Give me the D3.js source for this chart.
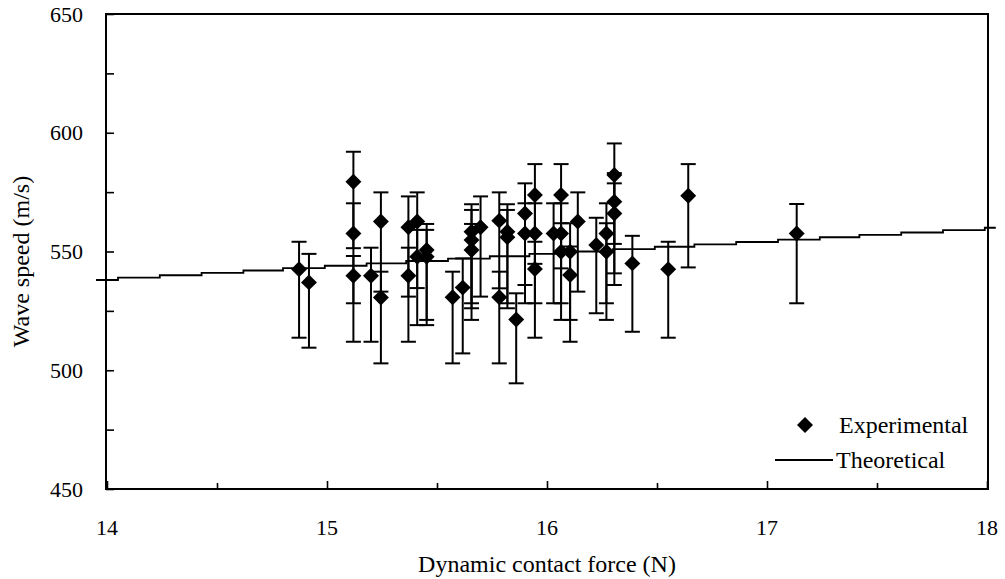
<!DOCTYPE html>
<html>
<head>
<meta charset="utf-8">
<script src="https://cdn.jsdelivr.net/npm/d3@7"></script>
<style>
  html, body { margin: 0; padding: 0; background: #fff; }
  svg { display: block; }
</style>
</head>
<body>
<svg id="chart" width="1005" height="579"></svg>
<script>
// Measured wave speed against dynamic contact force, with asymmetric error bars
const expForce = [14.873, 14.918, 15.12, 15.12, 15.12, 15.2, 15.245, 15.245, 15.37, 15.37,
  15.41, 15.41, 15.453, 15.453, 15.571, 15.617, 15.657, 15.657, 15.657, 15.698,
  15.783, 15.783, 15.82, 15.82, 15.86, 15.9, 15.9, 15.945, 15.945, 15.945,
  16.03, 16.064, 16.064, 16.064, 16.105, 16.105, 16.14, 16.224, 16.27, 16.27,
  16.306, 16.306, 16.306, 16.388, 16.551, 16.642, 17.135];
const expSpeed = [542.5, 537.0, 579.4, 557.6, 539.8, 539.8, 562.6, 530.6, 560.2, 539.8,
  562.6, 547.8, 550.6, 547.8, 530.7, 534.8, 558.3, 554.8, 550.6, 560.2,
  563.0, 530.7, 558.3, 556.0, 521.4, 566.0, 557.6, 573.8, 557.6, 542.6,
  557.6, 573.8, 557.6, 549.9, 549.9, 540.1, 562.6, 552.7, 557.6, 549.9,
  582.2, 571.0, 566.0, 545.0, 542.5, 573.5, 557.6];
const errPlus = [11.6, 12.0, 12.6, 12.7, 8.3, 11.8, 12.3, 10.9, 13.0, 11.8,
  12.3, 11.3, 11.0, 11.3, 10.8, 12.3, 11.6, 12.7, 11.0, 13.0,
  11.9, 10.8, 11.6, 11.5, 11.0, 12.7, 12.7, 13.0, 12.7, 11.5,
  12.7, 13.0, 12.7, 12.0, 12.0, 12.0, 12.3, 11.5, 12.7, 12.0,
  13.3, 12.0, 12.7, 11.6, 11.6, 13.3, 12.4];
const errMinus = [28.8, 27.5, 28.0, 29.4, 27.8, 27.8, 29.5, 27.7, 29.2, 27.8,
  28.0, 28.8, 29.4, 28.8, 27.8, 27.7, 30.1, 28.7, 29.4, 29.2,
  28.5, 27.8, 30.1, 29.9, 26.9, 30.1, 29.4, 29.0, 29.4, 28.9,
  29.4, 30.9, 29.4, 28.7, 28.7, 28.1, 29.5, 28.7, 29.4, 28.7,
  29.0, 30.2, 30.1, 28.8, 28.8, 30.2, 29.4];

// Theoretical prediction (values listed at each step of the rounded curve)
const thForce = [13.95, 14.05, 14.24, 14.43, 14.62, 14.80, 14.99, 15.18, 15.36, 15.55,
  15.74, 15.92, 16.11, 16.30, 16.49, 16.67, 16.86, 17.05, 17.24, 17.42,
  17.61, 17.80, 17.99, 18.04];
const thSpeed = [538, 539, 540, 541, 542, 543, 544, 545, 546, 547,
  548, 549, 550, 551, 552, 553, 554, 555, 556, 557,
  558, 559, 560, 560];

const xTicks = [14, 15, 16, 17, 18];
const yTicks = [450, 500, 550, 600, 650];
const xLabel = "Dynamic contact force (N)";
const yLabel = "Wave speed (m/s)";
const legendLabels = ["Experimental", "Theoretical"];

const FONT = "'Liberation Serif', Tinos, 'Times New Roman', Times, 'DejaVu Serif', serif";

const svg = d3.select("#chart");
const plot = { left: 106, top: 14, right: 988, bottom: 489 };

const x = d3.scaleLinear().domain([14, 18]).range([plot.left + 1, plot.right - 1]);
const y = d3.scaleLinear().domain([450, 650]).range([plot.bottom, plot.top]);

// Minor ticks (inside the plot)
const xMinor = d3.range(14.5, 18, 1);
const yMinor = d3.range(475, 650, 50);

const ax = svg.append("g");
const styleTicks = g => {
  g.select(".domain").remove();
  g.selectAll("line").attr("stroke", "#000").attr("stroke-width", 1.6);
};

// X axis: ticks point upward into the plot
ax.append("g").attr("transform", `translate(0,${plot.bottom})`)
  .call(d3.axisTop(x).tickValues(xTicks).tickSize(8).tickFormat(""))
  .call(styleTicks);
ax.append("g").attr("transform", `translate(0,${plot.bottom})`)
  .call(d3.axisTop(x).tickValues(xMinor).tickSize(6).tickFormat(""))
  .call(styleTicks);

// Y axis: ticks point right into the plot
ax.append("g").attr("transform", `translate(${plot.left},0)`)
  .call(d3.axisRight(y).tickValues(yTicks.concat(yMinor)).tickSize(8).tickFormat(""))
  .call(styleTicks);

// Plot frame
svg.append("rect")
  .attr("x", plot.left).attr("y", plot.top)
  .attr("width", plot.right - plot.left).attr("height", plot.bottom - plot.top)
  .attr("fill", "none").attr("stroke", "#000").attr("stroke-width", 2);

const txt = svg.append("g").attr("font-family", FONT).attr("fill", "#000");

// Tick labels
txt.append("g").selectAll("text").data(yTicks).join("text")
  .attr("x", 83).attr("y", d => y(d)).attr("dy", "0.35em")
  .attr("text-anchor", "end").attr("font-size", 22).text(d => d);
txt.append("g").selectAll("text").data(xTicks).join("text")
  .attr("x", d => x(d)).attr("y", 535)
  .attr("text-anchor", "middle").attr("font-size", 22).text(d => d);

// Axis titles
txt.append("text").attr("x", (plot.left + plot.right) / 2).attr("y", 572)
  .attr("text-anchor", "middle").attr("font-size", 24).text(xLabel);
txt.append("text").attr("transform", `translate(29,${(plot.top + plot.bottom) / 2 + 10}) rotate(-90)`)
  .attr("text-anchor", "middle").attr("font-size", 24).text(yLabel);

// Theoretical line
const line = d3.line().x(d => x(d[0])).y(d => y(d[1])).curve(d3.curveStepAfter);
svg.append("path")
  .datum(thForce.map((f, i) => [f, thSpeed[i]]))
  .attr("d", line).attr("fill", "none").attr("stroke", "#000").attr("stroke-width", 1.8);

// Experimental points with error bars
const pts = expForce.map((f, i) => ({ f, v: expSpeed[i], p: errPlus[i], m: errMinus[i] }));
const capW = 7.5;
const eb = svg.append("g").attr("stroke", "#000").attr("stroke-width", 2);
eb.selectAll(".stem").data(pts).join("line")
  .attr("x1", d => x(d.f)).attr("x2", d => x(d.f))
  .attr("y1", d => y(d.v + d.p)).attr("y2", d => y(d.v - d.m));
eb.selectAll(".capT").data(pts).join("line")
  .attr("x1", d => x(d.f) - capW).attr("x2", d => x(d.f) + capW)
  .attr("y1", d => y(d.v + d.p)).attr("y2", d => y(d.v + d.p));
eb.selectAll(".capB").data(pts).join("line")
  .attr("x1", d => x(d.f) - capW).attr("x2", d => x(d.f) + capW)
  .attr("y1", d => y(d.v - d.m)).attr("y2", d => y(d.v - d.m));

const diamond = d3.symbol().type(d3.symbolDiamond2).size(162);
svg.append("g").selectAll("path").data(pts).join("path")
  .attr("transform", d => `translate(${x(d.f)},${y(d.v)})`)
  .attr("d", diamond).attr("fill", "#000");

// Legend
const lg = svg.append("g");
lg.append("path").attr("transform", "translate(805,425)").attr("d", diamond).attr("fill", "#000");
txt.append("text").attr("x", 839).attr("y", 433).attr("font-size", 24).text(legendLabels[0]);
lg.append("line").attr("x1", 775).attr("x2", 833).attr("y1", 460).attr("y2", 460)
  .attr("stroke", "#000").attr("stroke-width", 1.8);
txt.append("text").attr("x", 836).attr("y", 468).attr("font-size", 24).text(legendLabels[1]);
</script>
</body>
</html>
